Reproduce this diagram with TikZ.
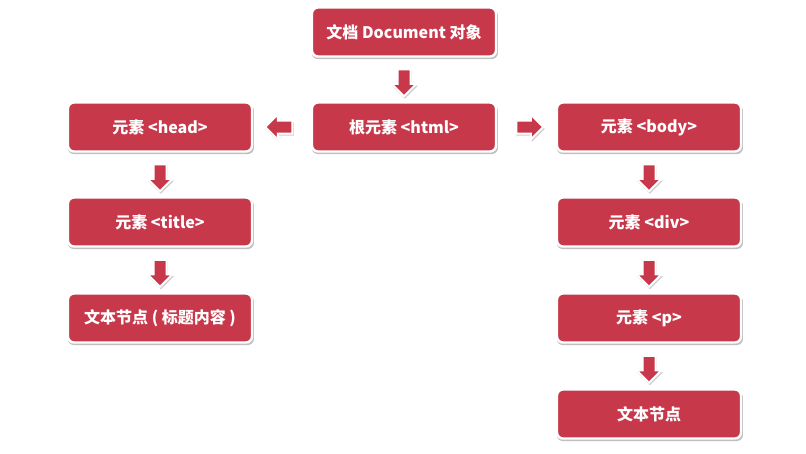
\documentclass[tikz,border=0pt]{standalone}
\usepackage{fontspec}
\setmainfont{Noto Sans CJK SC}
\usetikzlibrary{shapes.arrows,shadows,calc}
\definecolor{boxred}{HTML}{C8384B}
\tikzset{
  box/.style={rectangle, rounded corners=6pt, fill=boxred, draw=white, line width=2.4pt,
    minimum width=184pt, minimum height=49pt, text=white,
    font=\fontsize{16}{19}\selectfont\bfseries,
    drop shadow={shadow xshift=0.8pt, shadow yshift=-2.2pt, shadow scale=1.012, opacity=0.45, fill=black!55}},
  blockarrow/.style={single arrow, fill=boxred, draw=white, line width=2pt,
    minimum height=27pt, single arrow head extend=6pt, inner sep=5.5pt,
    drop shadow={shadow xshift=0.8pt, shadow yshift=-1.8pt, shadow scale=1.05, opacity=0.35, fill=black!55}}
}
\begin{document}
\begin{tikzpicture}[x=1pt,y=-1pt]
\useasboundingbox[fill=white] (0,0) rectangle (806,453);
\node[box] (doc) at (404,32) {文档 Document 对象};
\node[box] (html) at (404,127) {根元素 <html>};
\node[box] (head) at (160,127) {元素 <head>};
\node[box] (title) at (160,222) {元素 <title>};
\node[box] (txt1) at (160,318) {文本节点 ( 标题内容 )};
\node[box] (body) at (649,127) {元素 <body>};
\node[box] (div) at (649,222) {元素 <div>};
\node[box] (p) at (649,318) {元素 <p>};
\node[box] (txt2) at (649,414) {文本节点};
\node[blockarrow, shape border rotate=270] (a1) at ($(doc.south)!0.5!(html.north)$) {};
\node[blockarrow, shape border rotate=180] (a2) at ($(html.west)!0.5!(head.east)$) {};
\node[blockarrow, shape border rotate=0] (a3) at ($(html.east)!0.5!(body.west)$) {};
\node[blockarrow, shape border rotate=270] (a4) at ($(head.south)!0.5!(title.north)$) {};
\node[blockarrow, shape border rotate=270] (a5) at ($(title.south)!0.5!(txt1.north)$) {};
\node[blockarrow, shape border rotate=270] (a6) at ($(body.south)!0.5!(div.north)$) {};
\node[blockarrow, shape border rotate=270] (a7) at ($(div.south)!0.5!(p.north)$) {};
\node[blockarrow, shape border rotate=270] (a8) at ($(p.south)!0.5!(txt2.north)$) {};
\end{tikzpicture}
\end{document}
